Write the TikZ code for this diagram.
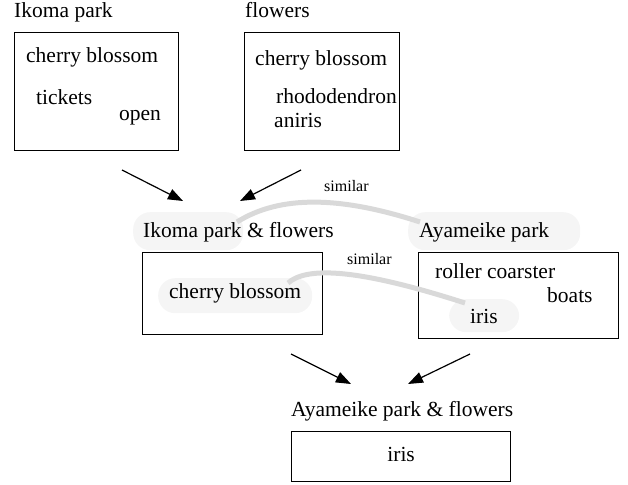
\documentclass[tikz,border=0pt]{standalone}
\usepackage{fontspec}
\setmainfont{Liberation Serif}
\usepackage{tikz}
\usetikzlibrary{arrows.meta, calc}
\tikzset{
  frame/.style={draw, line width=1.2pt, anchor=north west, inner sep=0pt},
  item/.style={anchor=base west, inner sep=0pt, font=\fontsize{21.5}{24}\selectfont},
  blob/.style={fill=gray!8, rounded corners=17pt, anchor=north west, inner sep=0pt},
  simlink/.style={draw=gray!30, line width=5pt},
  simlabel/.style={anchor=base west, inner sep=0pt, font=\fontsize{16}{18}\selectfont},
  link/.style={-{Triangle[length=15pt, width=11pt]}, line width=1.2pt}
}

\begin{document}
\begin{tikzpicture}[x=1pt, y=-1pt]
        \useasboundingbox (0,0) rectangle (628,484);

        % Source sets
        \node[item] (ikomalbl)   at (14,18)  {Ikoma park};
        \node[item] (flowerslbl) at (245,18) {flowers};
        \node[frame, minimum width=164pt, minimum height=118pt] (ikomabox)   at (14,32)  {};
        \node[frame, minimum width=155pt, minimum height=118pt] (flowersbox) at (244,32) {};

        \node[item] (ikcherry)  at (26,63)   {cherry blossom};
        \node[item] (tickets)   at (36,104)  {tickets};
        \node[item] (open)      at (119,120) {open};
        \node[item] (flcherry)  at (255,66)  {cherry blossom};
        \node[item] (rhodo)     at (276,103) {rhododendron};
        \node[item] (aniris)    at (274,128) {aniris};

        % Merged set and the other park
        \node[blob, minimum width=110pt, minimum height=38pt] (ikflblob) at (133,212) {};
        \node[blob, minimum width=172pt, minimum height=38pt] (ayablob)  at (408,212) {};
        \node[frame, minimum width=180pt, minimum height=82pt] (ikflbox) at (142,252) {};
        \node[frame, minimum width=200pt, minimum height=86pt] (ayabox)  at (418,252) {};
        \node[blob, minimum width=154pt, minimum height=35pt] (cherryblob) at (158,278) {};
        \node[blob, minimum width=70pt,  minimum height=33pt] (irisblob)   at (449,299) {};

        % Similarity links
        \coordinate (s1a) at (237,222);
        \coordinate (s1b) at (420,222);
        \coordinate (s2a) at (288,283);
        \coordinate (s2b) at (465,303);
        \draw[simlink] (s1a) .. controls (280,195) and (340,196) .. (s1b);
        \draw[simlink] (s2a) .. controls (305,268) and (350,266) .. (s2b);
        \node[simlabel] (sim1) at (324,191) {similar};
        \node[simlabel] (sim2) at (347,264) {similar};

        \node[item] (ikfllbl)   at (143,237) {Ikoma park \& flowers};
        \node[item] (ayalbl)    at (419,237) {Ayameike park};
        \node[item] (ikflcherry) at (169,298) {cherry blossom};
        \node[item] (roller)    at (435,278) {roller coarster};
        \node[item] (boats)     at (547,302) {boats};
        \node[item] (ayairis)   at (470,323) {iris};

        % Result
        \node[item] (resultlbl) at (291,416) {Ayameike park \& flowers};
        \node[frame, minimum width=219pt, minimum height=50pt] (resultbox) at (291,431) {};
        \node[item, anchor=base] (resiris) at (resultbox.center) [yshift=-4.5pt] {iris};

        % Arrows
        \coordinate (a1s) at (122,170);  \coordinate (a1e) at (183,201);
        \coordinate (a2s) at (301,170);  \coordinate (a2e) at (240,201);
        \coordinate (a3s) at (291,354);  \coordinate (a3e) at (351,384);
        \coordinate (a4s) at (470,354);  \coordinate (a4e) at (408,384);
        \draw[link] (a1s) -- (a1e);
        \draw[link] (a2s) -- (a2e);
        \draw[link] (a3s) -- (a3e);
        \draw[link] (a4s) -- (a4e);
    \end{tikzpicture}
\end{document}
